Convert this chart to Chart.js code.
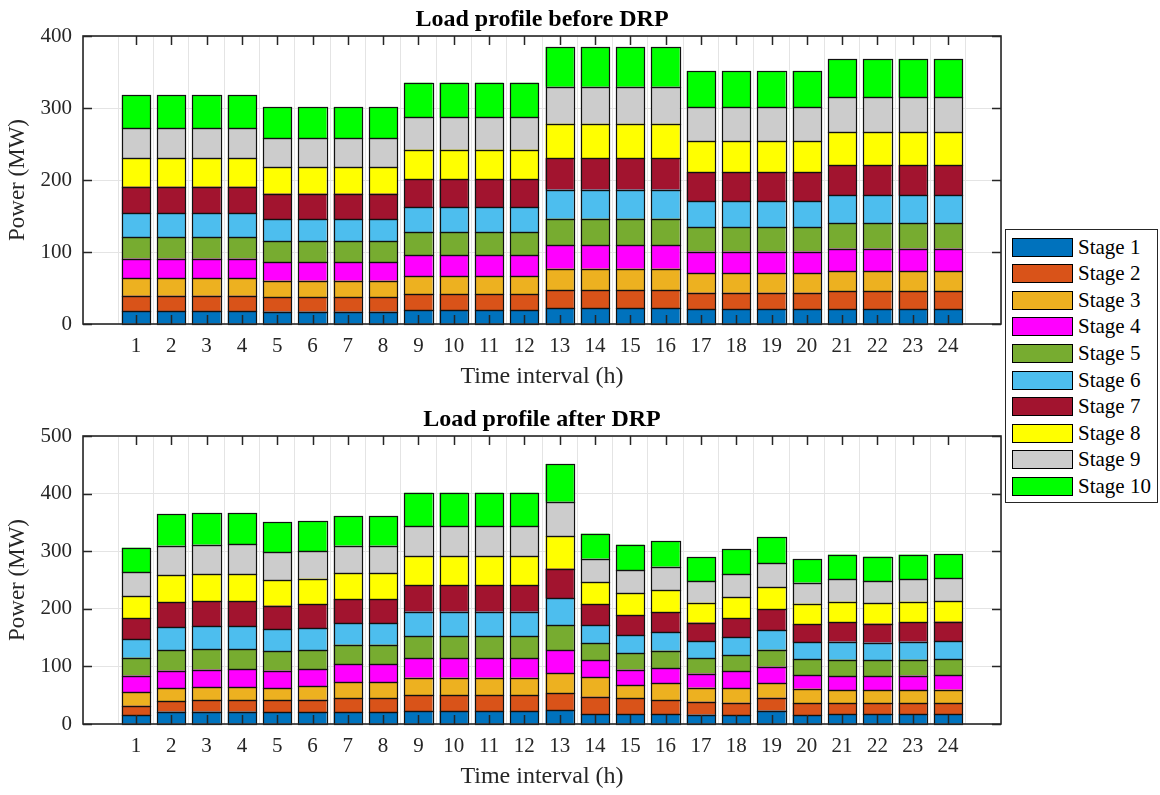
<!DOCTYPE html>
<html>
<head>
<meta charset="utf-8">
<script src="https://cdn.jsdelivr.net/npm/chart.js@4.4.0/dist/chart.umd.min.js"></script>
<style>
  html, body { margin: 0; padding: 0; background: #fff; overflow: hidden; }
  .wrap { position: absolute; left: 0; width: 1160px; height: 400px; }
  #legend {
    position: absolute; left: 1005px; top: 229px; width: 153px; height: 274px;
    border: 1px solid #262626; box-sizing: border-box; background: #fff;
    font-family: "Liberation Serif", "Times New Roman", serif; font-size: 21px; color: #000;
  }
  #legend .row { position: absolute; left: 6px; height: 26px; display: flex; align-items: center; white-space: nowrap; }
  #legend .sw { width: 61px; height: 19px; border: 1px solid #000; box-sizing: border-box; margin-right: 5px; }
</style>
</head>
<body>
<div class="wrap" style="top:0"><canvas id="chartBefore"></canvas></div>
<div class="wrap" style="top:400px"><canvas id="chartAfter"></canvas></div>
<div id="legend"></div>
<script>
// horas e estágios
const hours = [1, 2, 3, 4, 5, 6, 7, 8, 9, 10, 11, 12, 13, 14, 15, 16, 17, 18, 19, 20, 21, 22, 23, 24];
const stageNames = ['Stage 1', 'Stage 2', 'Stage 3', 'Stage 4', 'Stage 5', 'Stage 6', 'Stage 7', 'Stage 8', 'Stage 9', 'Stage 10'];
const stageColors = ['#0072BD', '#D95319', '#EDB120', '#FF00FF', '#77AC30', '#4DBEEE', '#A2142F', '#FFFF00', '#CCCCCC', '#00FF00'];

// Carga antes do DRP (MW), uma lista por estágio
const beforeS1 = [18.1, 18.1, 18.1, 18.1, 17.1, 17.1, 17.1, 17.1, 19.0, 19.0, 19.0, 19.0, 21.8, 21.8, 21.8, 21.8, 20.4, 20.4, 20.4, 20.4, 20.8, 20.8, 20.8, 20.8];
const beforeS2 = [21.3, 21.3, 21.3, 21.3, 20.4, 20.4, 20.4, 20.4, 22.2, 22.2, 22.2, 22.2, 25.4, 25.4, 25.4, 25.4, 23.1, 23.1, 23.1, 23.1, 24.6, 24.6, 24.6, 24.6];
const beforeS3 = [24.0, 24.0, 24.0, 24.0, 22.7, 22.7, 22.7, 22.7, 25.5, 25.5, 25.5, 25.5, 29.7, 29.7, 29.7, 29.7, 26.9, 26.9, 26.9, 26.9, 28.2, 28.2, 28.2, 28.2];
const beforeS4 = [27.3, 27.3, 27.3, 27.3, 25.4, 25.4, 25.4, 25.4, 28.7, 28.7, 28.7, 28.7, 32.4, 32.4, 32.4, 32.4, 30.1, 30.1, 30.1, 30.1, 31.0, 31.0, 31.0, 31.0];
const beforeS5 = [30.1, 30.1, 30.1, 30.1, 29.7, 29.7, 29.7, 29.7, 31.9, 31.9, 31.9, 31.9, 37.0, 37.0, 37.0, 37.0, 33.8, 33.8, 33.8, 33.8, 35.7, 35.7, 35.7, 35.7];
const beforeS6 = [33.4, 33.4, 33.4, 33.4, 30.5, 30.5, 30.5, 30.5, 34.7, 34.7, 34.7, 34.7, 40.3, 40.3, 40.3, 40.3, 36.1, 36.1, 36.1, 36.1, 38.4, 38.4, 38.4, 38.4];
const beforeS7 = [36.5, 36.5, 36.5, 36.5, 35.2, 35.2, 35.2, 35.2, 38.9, 38.9, 38.9, 38.9, 43.5, 43.5, 43.5, 43.5, 40.2, 40.2, 40.2, 40.2, 41.7, 41.7, 41.7, 41.7];
const beforeS8 = [39.4, 39.4, 39.4, 39.4, 37.0, 37.0, 37.0, 37.0, 41.2, 41.2, 41.2, 41.2, 48.1, 48.1, 48.1, 48.1, 43.1, 43.1, 43.1, 43.1, 45.8, 45.8, 45.8, 45.8];
const beforeS9 = [42.1, 42.1, 42.1, 42.1, 39.9, 39.9, 39.9, 39.9, 44.9, 44.9, 44.9, 44.9, 51.4, 51.4, 51.4, 51.4, 47.2, 47.2, 47.2, 47.2, 48.6, 48.6, 48.6, 48.6];
const beforeS10 = [45.4, 45.4, 45.4, 45.4, 43.0, 43.0, 43.0, 43.0, 48.2, 48.2, 48.2, 48.2, 55.1, 55.1, 55.1, 55.1, 50.5, 50.5, 50.5, 50.5, 53.3, 53.3, 53.3, 53.3];

// Carga depois do DRP (MW)
const afterS1 = [15.6, 21.4, 21.4, 21.4, 20.3, 20.3, 20.3, 20.3, 22.6, 22.6, 22.6, 22.6, 23.7, 17.4, 17.4, 17.4, 16.2, 15.6, 23.1, 15.6, 16.8, 16.8, 16.8, 16.8];
const afterS2 = [16.2, 18.5, 19.7, 19.7, 20.8, 21.9, 24.8, 24.8, 27.2, 27.2, 27.2, 27.2, 29.5, 30.1, 27.2, 24.3, 22.6, 21.4, 22.6, 20.9, 19.1, 19.1, 19.1, 19.1];
const afterS3 = [23.8, 22.6, 22.6, 22.6, 21.4, 23.2, 27.2, 27.2, 30.6, 30.6, 30.6, 30.6, 34.8, 33.5, 22.5, 29.5, 24.3, 25.5, 24.9, 24.8, 22.5, 22.5, 22.5, 23.7];
const afterS4 = [28.3, 30.1, 30.6, 31.2, 30.1, 29.5, 31.3, 31.3, 34.2, 34.2, 34.2, 34.2, 39.9, 29.5, 27.2, 26.0, 24.3, 28.9, 28.9, 23.8, 24.9, 24.4, 25.5, 25.5];
const afterS5 = [31.3, 35.9, 35.3, 34.7, 34.1, 33.6, 34.1, 34.1, 38.2, 38.2, 38.2, 38.2, 43.4, 29.5, 28.4, 30.1, 27.2, 28.4, 29.5, 27.2, 28.4, 27.7, 27.8, 27.7];
const afterS6 = [32.4, 39.3, 40.0, 40.0, 37.7, 37.6, 37.6, 37.6, 42.2, 42.2, 42.2, 42.2, 46.9, 31.9, 31.8, 31.8, 29.5, 30.7, 33.6, 29.5, 31.2, 30.7, 31.2, 31.3];
const afterS7 = [35.8, 43.4, 43.4, 43.4, 41.0, 42.2, 41.7, 41.7, 46.3, 46.3, 46.3, 46.3, 51.5, 35.9, 34.7, 34.8, 31.9, 33.0, 36.5, 31.3, 33.6, 33.0, 33.6, 33.6];
const afterS8 = [38.8, 47.5, 46.8, 47.4, 44.6, 44.0, 44.6, 44.6, 49.8, 49.8, 49.8, 49.8, 56.7, 38.2, 38.2, 38.1, 34.6, 36.4, 38.2, 35.9, 35.9, 35.3, 35.9, 35.8];
const afterS9 = [41.1, 50.9, 51.5, 51.5, 48.0, 48.0, 48.0, 48.0, 52.7, 52.7, 52.7, 52.7, 59.6, 41.0, 40.0, 41.1, 37.7, 39.9, 42.2, 36.4, 39.3, 38.2, 38.8, 39.4];
const afterS10 = [42.8, 54.4, 54.4, 54.4, 52.1, 52.1, 51.5, 51.5, 57.8, 57.8, 57.8, 57.8, 65.4, 43.4, 43.9, 44.0, 41.1, 44.0, 45.2, 41.1, 42.3, 42.8, 42.8, 42.2];

const beforeSeries = [beforeS1, beforeS2, beforeS3, beforeS4, beforeS5, beforeS6, beforeS7, beforeS8, beforeS9, beforeS10];
const afterSeries = [afterS1, afterS2, afterS3, afterS4, afterS5, afterS6, afterS7, afterS8, afterS9, afterS10];

const FONT = '"Liberation Serif", "Times New Roman", serif';
const AXIS_COLOR = '#262626';
const GRID_COLOR = '#e4e4e4';

// Contorno preto uniforme das barras
const outlinePlugin = {
    id: 'barOutline',
    afterDatasetsDraw(chart) {
        const ctx = chart.ctx;
        ctx.save();
        ctx.strokeStyle = '#111';
        ctx.lineWidth = 1.2;
        chart.data.datasets.forEach((ds, i) => {
            chart.getDatasetMeta(i).data.forEach(bar => {
                const { x, y, base, width } = bar.getProps(['x', 'y', 'base', 'width'], true);
                const l = Math.round(x - width / 2) + 0.5;
                const r = Math.round(x + width / 2) + 0.5;
                const t = Math.round(Math.min(y, base)) + 0.5;
                const b = Math.round(Math.max(y, base)) + 0.5;
                ctx.strokeRect(l, t, r - l, b - t);
            });
        });
        ctx.restore();
    }
};

// Título centrado na área do gráfico, moldura com marcas internas (estilo MATLAB)
const boxPlugin = {
    id: 'matlabBox',
    afterDatasetsDraw(chart, args, opts) {
        const { ctx, chartArea: a, scales: { x, y } } = chart;
        ctx.save();
        ctx.strokeStyle = AXIS_COLOR;
        ctx.lineWidth = 1.5;
        ctx.beginPath();
        hours.forEach(h => {
            const px = Math.round(x.getPixelForValue(h)) + 0.5;
            ctx.moveTo(px, a.bottom); ctx.lineTo(px, a.bottom - 9);
            ctx.moveTo(px, a.top); ctx.lineTo(px, a.top + 9);
        });
        y.ticks.forEach(t => {
            const py = Math.round(y.getPixelForValue(t.value)) + 0.5;
            ctx.moveTo(a.left, py); ctx.lineTo(a.left + 9, py);
            ctx.moveTo(a.right, py); ctx.lineTo(a.right - 9, py);
        });
        ctx.stroke();
        ctx.lineWidth = 1.6;
        ctx.strokeRect(a.left, a.top, a.right - a.left, a.bottom - a.top);

        ctx.fillStyle = '#000';
        ctx.font = 'bold 24px ' + FONT;
        ctx.textAlign = 'center';
        ctx.textBaseline = 'alphabetic';
        ctx.fillText(opts.text, (a.left + a.right) / 2, a.top - 10);
        ctx.restore();
    }
};

function buildChart(canvasId, title, series, yMax) {
    const datasets = series.map((values, i) => ({
        label: stageNames[i],
        data: hours.map((h, j) => ({ x: h, y: values[j] })),
        backgroundColor: stageColors[i],
        borderWidth: 0,
        stack: 'load',
        barPercentage: 0.8,
        categoryPercentage: 1.0
    }));

    return new Chart(document.getElementById(canvasId).getContext('2d'), {
        type: 'bar',
        data: { datasets: datasets },
        options: {
            responsive: true,
            maintainAspectRatio: false,
            animation: false,
            layout: { padding: { left: 0, right: 159, top: 36, bottom: 0 } },
            plugins: {
                legend: { display: false },
                tooltip: { enabled: false },
                title: { display: false },
                matlabBox: { text: title }
            },
            scales: {
                x: {
                    type: 'linear',
                    min: 0,
                    max: 25,
                    afterFit: scale => { scale.height = 76; },
                    grid: { color: GRID_COLOR, drawTicks: false },
                    border: { display: false },
                    ticks: {
                        stepSize: 1,
                        autoSkip: false,
                        maxRotation: 0,
                        padding: 10,
                        color: AXIS_COLOR,
                        font: { family: FONT, size: 21 },
                        callback: v => (v >= 1 && v <= 24) ? String(v) : ''
                    },
                    title: {
                        display: true,
                        text: 'Time interval (h)',
                        color: AXIS_COLOR,
                        font: { family: FONT, size: 24 },
                        padding: { top: 0, bottom: 9 }
                    }
                },
                y: {
                    stacked: true,
                    min: 0,
                    max: yMax,
                    afterFit: scale => { scale.width = 83; },
                    grid: { color: GRID_COLOR, drawTicks: false },
                    border: { display: false },
                    ticks: {
                        stepSize: 100,
                        padding: 11,
                        color: AXIS_COLOR,
                        font: { family: FONT, size: 21 }
                    },
                    title: {
                        display: true,
                        text: 'Power (MW)',
                        color: AXIS_COLOR,
                        font: { family: FONT, size: 23 },
                        padding: { top: 4, bottom: 0 }
                    }
                }
            }
        },
        plugins: [outlinePlugin, boxPlugin]
    });
}

buildChart('chartBefore', 'Load profile before DRP', beforeSeries, 400);
buildChart('chartAfter', 'Load profile after DRP', afterSeries, 500);

// Legenda compartilhada
const legend = document.getElementById('legend');
stageNames.forEach((name, i) => {
    const row = document.createElement('div');
    row.className = 'row';
    row.style.top = (4 + 26.6 * i) + 'px';
    const sw = document.createElement('span');
    sw.className = 'sw';
    sw.style.background = stageColors[i];
    const txt = document.createElement('span');
    txt.textContent = name;
    row.appendChild(sw);
    row.appendChild(txt);
    legend.appendChild(row);
});
</script>
</body>
</html>
